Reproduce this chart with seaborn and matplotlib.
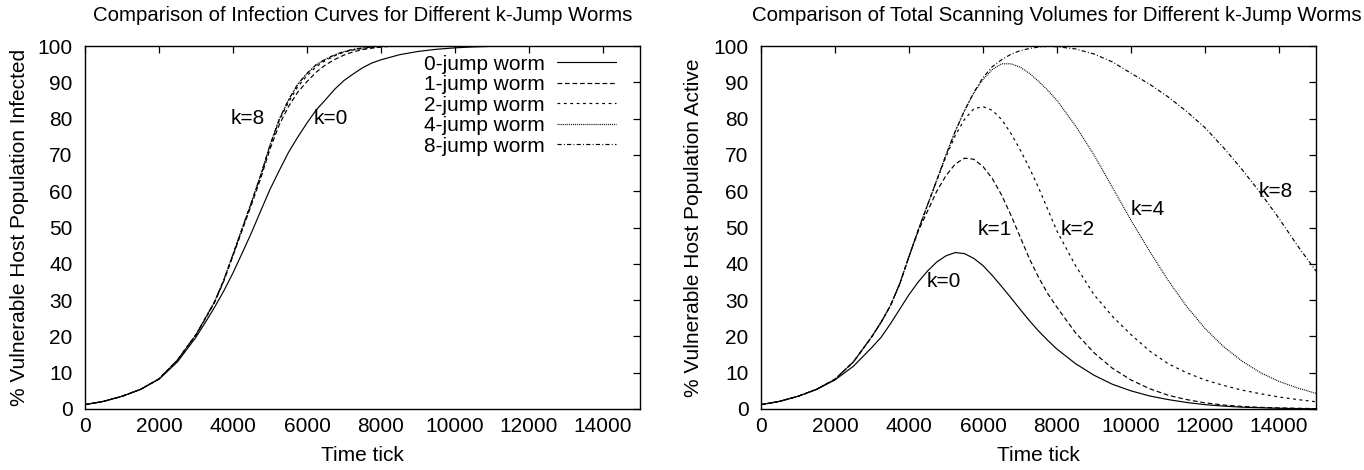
import numpy as np
import pandas as pd
import matplotlib
matplotlib.use("Agg")
import matplotlib.pyplot as plt
import seaborn as sns

# ---------------- data ----------------
# Left panel: % of vulnerable host population infected
inf_t0 = [0, 500, 1000, 1500, 2000, 2500, 3000, 3250, 3500, 3750, 4000, 4250, 4500, 4750,
          5000, 5250, 5500, 5750, 6000, 6250, 6500, 6750, 7000, 7250, 7500, 7750, 8000,
          8500, 9000, 9500, 10000, 10500, 11000, 11300]
inf_k0 = [1.2, 2.1, 3.5, 5.4, 8.2, 13.0, 19.8, 23.8, 28.0, 32.5, 37.5, 43.0, 48.6, 54.6,
          60.5, 65.7, 70.7, 74.9, 78.8, 82.4, 85.2, 88.1, 90.5, 92.3, 94.0, 95.3, 96.2,
          97.6, 98.5, 99.1, 99.5, 99.75, 99.9, 100.0]
inf_tk = [0, 500, 1000, 1500, 2000, 2500, 3000, 3250, 3500, 3750, 4000, 4250, 4500, 4750,
          5000, 5250, 5500, 5750, 6000, 6250, 6500, 6750, 7000, 7250, 7500, 7750, 8000,
          8250, 8500]
inf_k1 = [1.2, 2.1, 3.5, 5.4, 8.3, 13.5, 20.4, 24.8, 29.3, 35.2, 42.2, 49.3, 56.3, 63.6,
          71.6, 78.3, 83.3, 87.3, 90.2, 92.8, 94.8, 96.3, 97.5, 98.4, 99.0, 99.4, 99.7,
          99.9, 100.0]
inf_k2 = [1.2, 2.1, 3.5, 5.4, 8.3, 13.5, 20.5, 25.0, 29.5, 35.5, 42.5, 49.7, 56.9, 64.3,
          72.4, 79.5, 84.5, 88.8, 91.8, 94.3, 96.0, 97.3, 98.3, 98.9, 99.3, 99.6, 99.8,
          100.0, 100.0]
inf_k4 = [1.2, 2.1, 3.5, 5.4, 8.3, 13.5, 20.5, 25.0, 29.5, 35.5, 42.6, 49.8, 57.0, 64.5,
          72.7, 79.8, 85.1, 89.4, 92.4, 94.8, 96.3, 97.5, 98.4, 99.0, 99.4, 99.7, 99.9,
          100.0, 100.0]
inf_k8 = [1.2, 2.1, 3.5, 5.4, 8.3, 13.5, 20.5, 25.0, 29.5, 35.5, 42.6, 49.8, 57.0, 64.5,
          72.7, 79.8, 85.2, 89.5, 92.5, 94.9, 96.4, 97.6, 98.5, 99.1, 99.5, 99.75, 99.9,
          100.0, 100.0]

# Right panel: % of vulnerable host population active
act_t = [0, 500, 1000, 1500, 2000, 2500, 3000, 3250, 3500, 3750, 4000, 4250, 4500, 4750,
         5000, 5250, 5500, 5750, 6000, 6250, 6500, 6750, 7000, 7250, 7500, 7750, 8000,
         8500, 9000, 9500, 10000, 10500, 11000, 11500, 12000, 12500, 13000, 13500, 14000,
         14500, 15000]
act_k0 = [1.2, 2.1, 3.5, 5.4, 8.0, 11.8, 17.0, 19.8, 23.5, 27.5, 31.5, 35.0, 38.0, 40.5,
          42.2, 43.1, 42.8, 41.5, 39.5, 36.8, 33.8, 30.7, 27.5, 24.4, 21.5, 18.9, 16.5,
          12.5, 9.3, 6.8, 5.0, 3.6, 2.6, 1.8, 1.2, 0.8, 0.5, 0.35, 0.2, 0.1, 0.05]
act_k1 = [1.2, 2.1, 3.5, 5.4, 8.2, 13.0, 20.0, 24.0, 28.5, 34.5, 42.0, 49.0, 54.5, 60.0,
          64.3, 67.5, 69.1, 68.8, 66.8, 63.5, 59.0, 53.5, 47.5, 41.5, 36.3, 31.8, 28.0,
          21.0, 15.5, 11.2, 8.0, 5.6, 3.8, 2.6, 1.7, 1.1, 0.7, 0.45, 0.3, 0.2, 0.1]
act_k2 = [1.2, 2.1, 3.5, 5.4, 8.2, 13.0, 20.0, 24.0, 28.5, 34.5, 42.0, 49.3, 56.2, 63.0,
          69.5, 75.3, 79.8, 82.7, 83.3, 82.3, 79.8, 76.0, 71.5, 66.5, 61.0, 55.0, 49.0,
          39.5, 31.5, 25.5, 20.5, 16.0, 12.5, 10.0, 8.0, 6.5, 5.2, 4.2, 3.3, 2.6, 2.0]
act_k4 = [1.2, 2.1, 3.5, 5.4, 8.2, 13.0, 20.0, 24.0, 28.5, 34.5, 42.0, 49.3, 56.2, 63.0,
          70.0, 76.5, 82.2, 87.0, 90.8, 93.5, 95.1, 95.1, 94.2, 92.5, 90.3, 87.8, 85.0,
          78.0, 70.0, 61.0, 52.0, 43.5, 35.5, 28.3, 22.2, 17.2, 13.2, 10.0, 7.6, 5.8, 4.3]
act_k8 = [1.2, 2.1, 3.5, 5.4, 8.2, 13.0, 20.0, 24.0, 28.5, 34.5, 42.0, 49.3, 56.2, 63.0,
          70.0, 76.5, 82.2, 87.2, 91.3, 94.3, 96.2, 97.7, 98.7, 99.3, 99.7, 99.9, 99.8,
          99.2, 97.8, 95.6, 92.5, 89.5, 86.0, 82.0, 77.5, 72.0, 66.0, 59.5, 52.5, 45.0,
          38.0]

series_names = ["0-jump worm", "1-jump worm", "2-jump worm", "4-jump worm", "8-jump worm"]
x_ticks = [0, 2000, 4000, 6000, 8000, 10000, 12000, 14000]
y_ticks = [0, 10, 20, 30, 40, 50, 60, 70, 80, 90, 100]

left_title = "Comparison of Infection Curves for Different k-Jump Worms"
right_title = "Comparison of Total Scanning Volumes for Different k-Jump Worms"
left_ylabel = "% Vulnerable Host Population Infected"
right_ylabel = "% Vulnerable Host Population Active"
xlabel = "Time tick"

left_notes = [("k=8", 4400, 80), ("k=0", 6650, 80)]
right_notes = [("k=0", 4950, 35), ("k=1", 6330, 49.5), ("k=2", 8560, 49.5),
               ("k=4", 10450, 55), ("k=8", 13900, 60)]

# ---------------- style ----------------
sns.set_style("white")
plt.rcParams['font.family'] = ['Liberation Sans', 'DejaVu Sans']
plt.rcParams['lines.scale_dashes'] = False
plt.rcParams['text.color'] = 'black'
plt.rcParams['axes.labelcolor'] = 'black'
plt.rcParams['xtick.color'] = 'black'
plt.rcParams['ytick.color'] = 'black'

styles = [
    "-",
    (0, (3.4, 2.0)),
    (0, (2.0, 2.6)),
    (0, (0.7, 0.7)),
    (0, (3.0, 1.6, 0.7, 1.6)),
]

FS = 15
TFS = 14.7
fig = plt.figure(figsize=(13.64, 4.70), dpi=100)
W, H = 1364, 470
axL = fig.add_axes([85 / W, 1 - 409 / H, 555 / W, 363 / H])
axR = fig.add_axes([761 / W, 1 - 409 / H, 555 / W, 363 / H])

left_sets = [(inf_t0, inf_k0), (inf_tk, inf_k1), (inf_tk, inf_k2), (inf_tk, inf_k4), (inf_tk, inf_k8)]
right_sets = [(act_t, act_k0), (act_t, act_k1), (act_t, act_k2), (act_t, act_k4), (act_t, act_k8)]

for ax, sets, with_label in [(axL, left_sets, True), (axR, right_sets, False)]:
    for (t, v), name, ls in zip(sets, series_names, styles):
        df = pd.DataFrame({"t": t, "v": v})
        sns.lineplot(data=df, x="t", y="v", ax=ax, color="black", linewidth=0.85,
                     linestyle=ls, label=name if with_label else None, legend=False)

for ax, title, ylab, tx in [(axL, left_title, left_ylabel, 0.5), (axR, right_title, right_ylabel, 0.533)]:
    ax.set_xlim(0, 15000)
    ax.set_ylim(0, 100)
    ax.set_xticks(x_ticks)
    ax.set_yticks(y_ticks)
    ax.set_xticklabels([str(x) for x in x_ticks], fontsize=FS)
    ax.set_yticklabels([str(y) for y in y_ticks], fontsize=FS)
    ax.tick_params(axis="both", direction="in", length=5, width=0.9, top=True, right=True,
                   color="black", labelcolor="black")
    ax.tick_params(axis="x", pad=6)
    ax.tick_params(axis="y", pad=9)
    for s in ax.spines.values():
        s.set_visible(True)
        s.set_color("black")
        s.set_linewidth(1.0)
    ax.set_xlabel(xlabel, fontsize=FS)
    ax.set_ylabel(ylab, fontsize=FS)
    ax.xaxis.label.set_va("center")
    ax.yaxis.label.set_va("center")
    ax.xaxis.set_label_coords(0.5, -0.127)
    ax.set_title(title, fontsize=TFS, pad=0, x=tx, y=1.085, va="center")

axL.yaxis.set_label_coords(-0.118, 0.5)
axR.yaxis.set_label_coords(-0.121, 0.5)

for txt, x, y in left_notes:
    axL.text(x, y, txt, fontsize=FS, ha="center", va="center")
for txt, x, y in right_notes:
    axR.text(x, y, txt, fontsize=FS, ha="center", va="center")

axL.legend(loc="upper right", frameon=False, markerfirst=False, fontsize=FS,
           handlelength=2.8, labelspacing=0.07, handletextpad=0.6, borderaxespad=0,
           bbox_to_anchor=(0.971, 0.999))

fig.savefig("out.png", dpi=100)
